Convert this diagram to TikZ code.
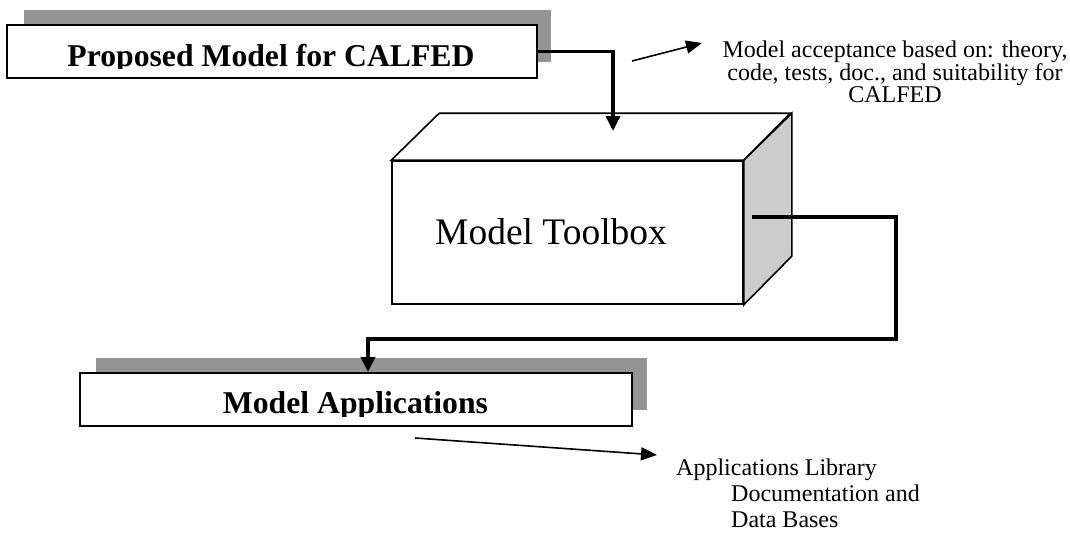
\documentclass[tikz,border=0pt]{standalone}
\usepackage{fontspec}
\setmainfont{Liberation Serif}
\usetikzlibrary{arrows.meta}

\tikzset{
  flow/.style={line width=3.5pt, -{Triangle[length=15pt,width=14pt]}},
  note arrow/.style={line width=1.6pt, -{Triangle[length=16pt,width=13pt]}},
  shade box/.style={fill=black!42},
  title box/.style={draw, line width=2pt, fill=white, inner sep=0pt},
  title text/.style={font=\fontsize{31.7}{34}\selectfont\bfseries, inner sep=0pt, anchor=base},
  note/.style={font=\fontsize{24}{22}\selectfont, inner sep=0pt},
  face/.style={draw, line width=1.6pt},
}

\begin{document}
\begin{tikzpicture}[x=1pt, y=-1pt]

    \useasboundingbox (0,0) rectangle (1070,533);

    % shadows behind the two boxes
    \fill[shade box] (24,10) rectangle (551,62);
    \fill[shade box] (96,358) rectangle (647,410);

    \node [title box, minimum width=530pt, minimum height=53pt] (proposed) at (272,51.5) {};
    \node [title box, minimum width=552pt, minimum height=53pt] (appl) at (356,399.5) {};

    \begin{scope}
        \clip (proposed.north west) rectangle ([yshift=10.5pt]proposed.south east);
        \node [title text] (proposedlabel) at (271,66) {Proposed Model for CALFED};
    \end{scope}
    \begin{scope}
        \clip (appl.north west) rectangle ([yshift=11pt]appl.south east);
        \node [title text] (appllabel) at (355.5,413) {Model Applications};
    \end{scope}

    % the toolbox
    \node [face, fill=white, minimum width=351pt, minimum height=143pt, inner sep=0pt] (toolbox) at (567.5,232.5) {};
    \draw[face, fill=white] (toolbox.north west) -- ++(48,-47) -- ++(351,0) -- (toolbox.north east) -- cycle;
    \draw[face, fill=black!20] (toolbox.north east) -- ++(48,-47) -- ++(0,143) -- (toolbox.south east) -- cycle;
    \node [font=\fontsize{37.5}{40}\selectfont, anchor=base west, inner sep=0pt] (toolboxlabel) at (435,244) {Model Toolbox};

    \coordinate (in1) at (613,131);
    \coordinate (out2) at (752,217);
    \coordinate (bend) at (896,339);

    \draw[flow] (proposed.east) -| (in1);
    \draw[flow] (out2) -| (bend) -| ([xshift=12pt]appl.north);

    % notes
    \node [note, align=center, anchor=north] (accept) at (895,40.5) {Model acceptance based on: theory,\\ code, tests, doc., and suitability for\\ CALFED};
    \node [note, font=\fontsize{24}{26}\selectfont, align=left, anchor=north west] (library) at (676,458.5) {Applications Library\\ \hspace*{55pt}Documentation and\\ \hspace*{55pt}Data Bases};

    \coordinate (a1) at (632,61);
    \coordinate (a2) at (702,43);
    \coordinate (b1) at (415,438);
    \coordinate (b2) at (657,455);

    \draw[note arrow] (a1) -- (a2);
    \draw[note arrow] (b1) -- (b2);

\end{tikzpicture}
\end{document}
